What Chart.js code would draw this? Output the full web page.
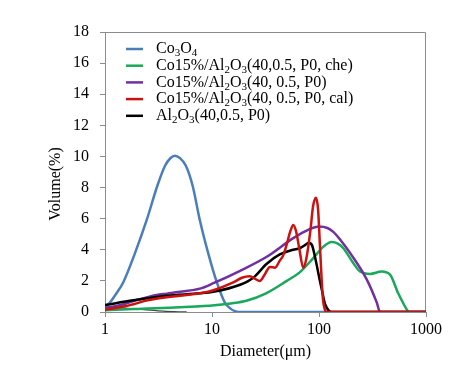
<!DOCTYPE html>
<html><head><meta charset="utf-8">
<script src="https://cdn.jsdelivr.net/npm/chart.js@4.4.1/dist/chart.umd.min.js"></script>
<style>html,body{margin:0;padding:0;background:#fff;}</style>
</head><body>
<canvas id="c" width="474" height="375"></canvas>
<script>
// ---- data ----
const seriesLabels = [
  'Co₃O₄',
  'Co15%/Al₂O₃(40,0.5, P0, che)',
  'Co15%/Al₂O₃(40, 0.5, P0)',
  'Co15%/Al₂O₃(40, 0.5, P0, cal)',
  'Al₂O₃(40,0.5, P0)'
];
const xTickValues = [1, 10, 100, 1000];

const co3o4X = [1, 1.11, 1.25, 1.48, 1.91, 2.45, 3.08, 3.64, 4.1, 4.5, 5.0, 5.7, 6.6, 7.7, 9.2, 11.1, 13.2, 15, 16.4, 17.5, 1000];
const co3o4Y = [0.35, 0.6, 1.1, 1.9, 3.8, 5.9, 8.1, 9.4, 9.9, 10.05, 9.9, 9.4, 8.1, 5.9, 3.8, 1.9, 0.6, 0.2, 0.05, 0, 0];

const cheX = [1, 2, 4, 7, 10, 15, 21, 32, 50, 66, 88, 110, 131, 150, 169, 209, 242, 300, 385, 461, 550, 620, 670, 700, 1000];
const cheY = [0.12, 0.2, 0.28, 0.36, 0.42, 0.55, 0.72, 1.2, 2.0, 2.55, 3.45, 4.2, 4.5, 4.4, 4.1, 3.15, 2.6, 2.45, 2.6, 2.4, 1.2, 0.5, 0.1, 0, 0];

const p0X = [1, 1.4, 1.84, 2.5, 3.04, 3.8, 5, 7.7, 10.3, 18.3, 32.5, 57.5, 80, 100, 120, 136, 160, 195, 279, 347, 372, 1000];
const p0Y = [0.25, 0.45, 0.7, 0.95, 1.1, 1.18, 1.3, 1.5, 1.85, 2.65, 3.55, 4.75, 5.3, 5.5, 5.4, 5.15, 4.6, 3.8, 2.1, 0.6, 0, 0];

const calX = [1, 1.5, 1.84, 2.5, 3.77, 5, 7.7, 10.3, 15.8, 19, 22.6, 25, 28, 31, 34.8, 38.8, 43, 46, 49.7, 54, 57.5, 61, 65, 71.3, 76, 83, 88, 93.7, 98, 102, 106, 109, 113, 117, 1000];
const calY = [0.15, 0.35, 0.5, 0.75, 0.95, 1.05, 1.2, 1.4, 1.9, 2.2, 2.3, 2.15, 2.0, 2.4, 2.9, 2.85, 3.3, 3.6, 4.3, 5.2, 5.6, 5.2, 4.2, 2.85, 3.4, 5.2, 6.8, 7.35, 6.6, 4.3, 2.0, 0.8, 0.2, 0, 0];

const alX = [1, 1.84, 3.77, 7.7, 10.3, 18.3, 24.3, 32.5, 43, 57.5, 66, 74, 80, 86, 92, 102, 108, 114, 125, 131, 1000];
const alY = [0.45, 0.75, 1.05, 1.2, 1.3, 1.75, 2.2, 3.1, 3.7, 4.0, 4.1, 4.3, 4.45, 4.3, 3.5, 2.0, 1.2, 0.5, 0.05, 0, 0];

const darkX = [1, 2.3, 3.5, 5.8];
const darkY = [0.35, 0.15, 0.05, 0];

// ---- build ----
const pts = (xs, ys) => xs.map((x, i) => ({x: x, y: ys[i]}));
const serif = "'Liberation Serif', 'Times New Roman', serif";

const datasets = [
  {label: seriesLabels[0], data: pts(co3o4X, co3o4Y), borderColor: '#4a7ebb', order: 5},
  {label: seriesLabels[1], data: pts(cheX, cheY), borderColor: '#1aa85a', order: 4},
  {label: seriesLabels[2], data: pts(p0X, p0Y), borderColor: '#7030a0', order: 3},
  {label: seriesLabels[3], data: pts(calX, calY), borderColor: '#cc1111', order: 1},
  {label: seriesLabels[4], data: pts(alX, alY), borderColor: '#000000', order: 2},
  {label: '', data: pts(darkX, darkY), borderColor: '#3b4f40', borderWidth: 1.3, order: 6}
];

const subMap = {'₀':'0','₁':'1','₂':'2','₃':'3','₄':'4','₅':'5','₆':'6','₇':'7','₈':'8','₉':'9'};
function drawSubText(ctx, text, x, y, size) {
  let cx = x;
  ctx.textBaseline = 'middle';
  ctx.textAlign = 'left';
  ctx.fillStyle = '#000';
  for (const ch of text) {
    if (subMap[ch]) {
      ctx.font = Math.round(size * 0.68) + 'px ' + serif;
      ctx.fillText(subMap[ch], cx, y + size * 0.28);
      cx += ctx.measureText(subMap[ch]).width;
    } else {
      ctx.font = size + 'px ' + serif;
      ctx.fillText(ch, cx, y);
      cx += ctx.measureText(ch).width;
    }
  }
}

const frameLegend = {
  id: 'frameLegend',
  beforeDatasetsDraw(chart) {
    const a = chart.chartArea, ctx = chart.ctx;
    ctx.save();
    ctx.strokeStyle = '#8c8c8c';
    ctx.lineWidth = 1;
    ctx.beginPath();
    ctx.moveTo(a.left, a.top + 0.5);
    ctx.lineTo(a.right - 0.5, a.top + 0.5);
    ctx.lineTo(a.right - 0.5, a.bottom);
    ctx.stroke();
    ctx.restore();
  },
  afterDraw(chart) {
    const a = chart.chartArea, ctx = chart.ctx;
    ctx.save();
    chart.data.datasets.forEach((ds, i) => {
      if (!ds.label) return;
      const y = a.top + 17 + i * 16.7;
      ctx.strokeStyle = ds.borderColor;
      ctx.lineWidth = 2.5;
      ctx.beginPath();
      ctx.moveTo(a.left + 21, y);
      ctx.lineTo(a.left + 38, y);
      ctx.stroke();
      drawSubText(ctx, ds.label, a.left + 51, y, 16);
    });
    ctx.restore();
  }
};

new Chart(document.getElementById('c'), {
  type: 'line',
  data: {datasets: datasets},
  plugins: [frameLegend],
  options: {
    responsive: false,
    animation: false,
    layout: {padding: {top: 32, right: 48, left: 0, bottom: 0}},
    plugins: {legend: {display: false}, tooltip: {enabled: false}},
    elements: {
      point: {radius: 0},
      line: {borderWidth: 2.5, cubicInterpolationMode: 'monotone', fill: false}
    },
    scales: {
      x: {
        type: 'logarithmic', min: 1, max: 1000,
        afterBuildTicks: s => { s.ticks = xTickValues.map(v => ({value: v})); },
        afterFit: s => { s.height = 63; },
        ticks: {color: '#000', font: {family: serif, size: 16}, padding: 3, maxRotation: 0,
                callback: v => String(v)},
        grid: {drawOnChartArea: false, drawTicks: true, tickLength: 5, color: '#8c8c8c'},
        border: {display: true, color: '#8c8c8c'},
        title: {display: true, text: 'Diameter(μm)', color: '#000', font: {family: serif, size: 16}, padding: {top: 0, bottom: 14}}
      },
      y: {
        type: 'linear', min: 0, max: 18,
        afterFit: s => { s.width = 105; },
        ticks: {stepSize: 2, color: '#000', font: {family: serif, size: 16}, padding: 11},
        grid: {drawOnChartArea: false, drawTicks: true, tickLength: 5, color: '#8c8c8c'},
        border: {display: true, color: '#8c8c8c'},
        title: {display: true, text: 'Volume(%)      ', color: '#000', font: {family: serif, size: 16}, padding: {top: 46, bottom: 0}}
      }
    }
  }
});
</script>
</body></html>
